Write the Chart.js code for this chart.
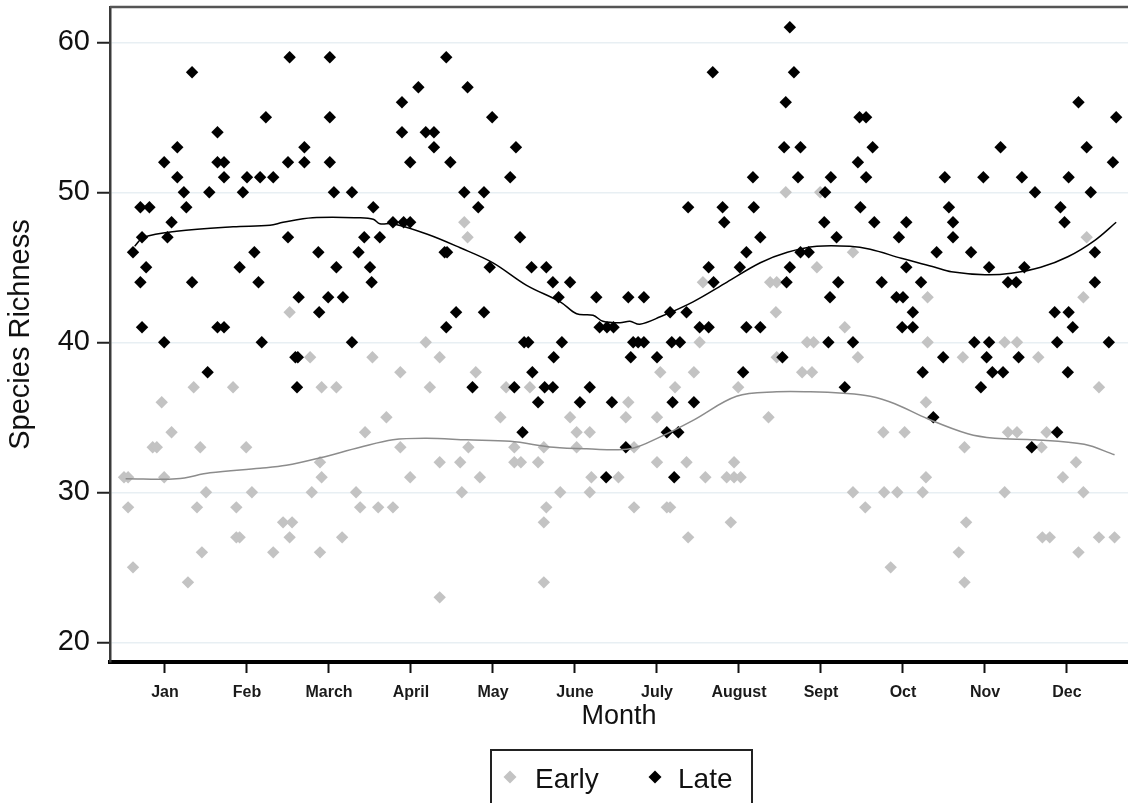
<!DOCTYPE html>
<html>
<head>
<meta charset="utf-8">
<script src="https://cdn.jsdelivr.net/npm/chart.js@4.4.1/dist/chart.umd.min.js"></script>
<style>
  html, body { margin: 0; padding: 0; background: #fff; overflow: hidden; }
  canvas { display: block; }
</style>
</head>
<body>
<canvas id="chart" width="1128" height="803"></canvas>
<script>
// Month axis: Jan = 1 ... Dec = 12 (fractional values fall between month ticks)
const monthTicks = [1, 2, 3, 4, 5, 6, 7, 8, 9, 10, 11, 12];
const monthLabels = ['Jan', 'Feb', 'March', 'April', 'May', 'June', 'July', 'August', 'Sept', 'Oct', 'Nov', 'Dec'];
const richnessTicks = [20, 30, 40, 50, 60];

// Early samples
const earlyMonth = [
  0.50, 0.55, 0.55, 0.61, 0.85, 0.90, 0.96, 0.99, 1.08, 1.28, 1.35, 1.39, 1.43, 1.45, 1.50,
  1.83, 1.87, 1.87, 1.91, 1.99, 2.06, 2.32, 2.44, 2.52, 2.52, 2.55, 2.77, 2.79, 2.89, 2.89,
  2.91, 2.91, 3.09, 3.16, 3.33, 3.38, 3.44, 3.53, 3.60, 3.70, 3.78, 3.87, 3.87, 3.99, 4.18,
  4.23, 4.35, 4.35, 4.35, 4.60, 4.62, 4.65, 4.69, 4.70, 4.79, 4.84, 5.09, 5.16, 5.26, 5.26,
  5.34, 5.45, 5.55, 5.62, 5.62, 5.62, 5.65, 5.82, 5.94, 6.02, 6.02, 6.18, 6.18, 6.20, 6.53,
  6.62, 6.65, 6.72, 6.72, 7.00, 7.00, 7.04, 7.12, 7.16, 7.22, 7.36, 7.38, 7.45, 7.52, 7.56,
  7.59, 7.85, 7.90, 7.94, 7.94, 7.99, 8.02, 8.36, 8.38, 8.45, 8.46, 8.46, 8.57, 8.77, 8.83,
  8.89, 8.91, 8.95, 8.99, 9.29, 9.39, 9.39, 9.45, 9.54, 9.76, 9.77, 9.85, 9.93, 10.02, 10.24,
  10.28, 10.28, 10.30, 10.30, 10.68, 10.73, 10.75, 10.75, 10.77, 11.24, 11.24, 11.28, 11.39, 11.39, 11.65,
  11.69, 11.70, 11.75, 11.79, 11.95, 12.11, 12.14, 12.20, 12.20, 12.24, 12.39, 12.39, 12.58
];
const earlyRichness = [
  31, 31, 29, 25, 33, 33, 36, 31, 34, 24, 37, 29, 33, 26, 30,
  37, 29, 27, 27, 33, 30, 26, 28, 27, 42, 28, 39, 30, 32, 26,
  37, 31, 37, 27, 30, 29, 34, 39, 29, 35, 29, 38, 33, 31, 40,
  37, 39, 32, 23, 32, 30, 48, 47, 33, 38, 31, 35, 37, 33, 32,
  32, 37, 32, 33, 28, 24, 29, 30, 35, 34, 33, 34, 30, 31, 31,
  35, 36, 33, 29, 35, 32, 38, 29, 29, 37, 32, 27, 38, 40, 44,
  31, 31, 28, 32, 31, 37, 31, 35, 44, 42, 44, 39, 50, 38, 40,
  38, 40, 45, 50, 41, 46, 30, 39, 29, 34, 30, 25, 30, 34, 30,
  36, 31, 40, 43, 26, 39, 33, 24, 28, 40, 30, 34, 40, 34, 39,
  33, 27, 34, 27, 31, 32, 26, 43, 30, 47, 37, 27, 27
];

// Late samples
const lateMonth = [
  0.61, 0.70, 0.70, 0.72, 0.72, 0.77, 0.81, 0.99, 0.99, 1.03, 1.08, 1.15, 1.15, 1.23, 1.26,
  1.33, 1.33, 1.52, 1.54, 1.64, 1.64, 1.64, 1.72, 1.72, 1.72, 1.91, 1.95, 2.00, 2.09, 2.14,
  2.16, 2.18, 2.23, 2.32, 2.50, 2.50, 2.52, 2.59, 2.62, 2.61, 2.63, 2.70, 2.70, 2.87, 2.88,
  2.99, 3.01, 3.01, 3.01, 3.06, 3.09, 3.17, 3.28, 3.28, 3.36, 3.43, 3.50, 3.52, 3.54, 3.62,
  3.78, 3.89, 3.89, 3.91, 3.99, 3.99, 4.09, 4.18, 4.28, 4.28, 4.41, 4.44, 4.43, 4.43, 4.48,
  4.55, 4.65, 4.69, 4.75, 4.82, 4.89, 4.89, 4.96, 4.99, 5.21, 5.26, 5.28, 5.33, 5.36, 5.38,
  5.43, 5.47, 5.48, 5.55, 5.63, 5.65, 5.73, 5.73, 5.74, 5.80, 5.84, 5.94, 6.06, 6.18, 6.26,
  6.30, 6.38, 6.39, 6.45, 6.47, 6.62, 6.65, 6.68, 6.71, 6.77, 6.84, 6.84, 7.00, 7.12, 7.16,
  7.18, 7.19, 7.21, 7.26, 7.28, 7.36, 7.38, 7.45, 7.52, 7.63, 7.63, 7.68, 7.69, 7.80, 7.82,
  8.01, 8.05, 8.09, 8.09, 8.17, 8.18, 8.26, 8.26, 8.53, 8.55, 8.57, 8.58, 8.62, 8.62, 8.67,
  8.72, 8.75, 8.75, 8.85, 9.04, 9.05, 9.09, 9.11, 9.12, 9.19, 9.21, 9.29, 9.39, 9.45, 9.47,
  9.48, 9.55, 9.55, 9.63, 9.65, 9.74, 9.92, 9.95, 9.99, 10.00, 10.04, 10.04, 10.12, 10.12, 10.22,
  10.24, 10.37, 10.41, 10.49, 10.51, 10.56, 10.61, 10.61, 10.83, 10.87, 10.95, 10.98, 11.02, 11.05, 11.05,
  11.09, 11.19, 11.22, 11.28, 11.38, 11.41, 11.45, 11.48, 11.57, 11.61, 11.85, 11.88, 11.88, 11.92, 11.97,
  12.01, 12.02, 12.02, 12.07, 12.14, 12.24, 12.29, 12.34, 12.34, 12.51, 12.56, 12.60
];
const lateRichness = [
  46, 49, 44, 47, 41, 45, 49, 52, 40, 47, 48, 53, 51, 50, 49,
  58, 44, 38, 50, 54, 52, 41, 52, 51, 41, 45, 50, 51, 46, 44,
  51, 40, 55, 51, 52, 47, 59, 39, 39, 37, 43, 53, 52, 46, 42,
  43, 59, 55, 52, 50, 45, 43, 50, 40, 46, 47, 45, 44, 49, 47,
  48, 56, 54, 48, 52, 48, 57, 54, 54, 53, 46, 46, 59, 41, 52,
  42, 50, 57, 37, 49, 50, 42, 45, 55, 51, 37, 53, 47, 34, 40,
  40, 45, 38, 36, 37, 45, 44, 37, 39, 43, 40, 44, 36, 37, 43,
  41, 31, 41, 36, 41, 33, 43, 39, 40, 40, 40, 43, 39, 34, 42,
  40, 36, 31, 34, 40, 42, 49, 36, 41, 41, 45, 58, 44, 49, 48,
  45, 38, 46, 41, 51, 49, 41, 47, 39, 53, 56, 44, 61, 45, 58,
  51, 53, 46, 46, 48, 50, 40, 43, 51, 47, 44, 37, 40, 52, 55,
  49, 55, 51, 53, 48, 44, 43, 47, 41, 43, 48, 45, 42, 41, 44,
  38, 35, 46, 39, 51, 49, 48, 47, 46, 40, 37, 51, 39, 45, 40,
  38, 53, 38, 44, 44, 39, 51, 45, 33, 50, 42, 40, 34, 49, 48,
  38, 51, 42, 41, 56, 53, 50, 46, 44, 40, 52, 55
];

// Smoothed seasonal trends
const earlyTrendMonth = [0.52, 1.14, 1.55, 2.16, 2.48, 2.89, 3.38, 3.78, 4.19, 4.68, 5.21, 5.74, 6.14, 6.67,
  7.04, 7.44, 7.97, 8.46, 8.87, 9.27, 9.60, 9.90, 10.30, 10.79, 11.12, 11.61, 12.21, 12.58];
const earlyTrend = [30.9, 30.9, 31.3, 31.6, 31.8, 32.3, 33.0, 33.5, 33.6, 33.5, 33.4, 33.0, 32.9, 32.9,
  33.7, 34.8, 36.4, 36.7, 36.7, 36.6, 36.4, 35.9, 34.9, 33.9, 33.6, 33.5, 33.2, 32.5];
const lateTrendMonth = [0.63, 0.74, 1.14, 1.83, 2.28, 2.44, 2.80, 3.38, 3.54, 3.62, 3.78, 4.20, 4.60, 5.00,
  5.41, 5.82, 6.02, 6.22, 6.34, 6.55, 6.67, 6.79, 7.04, 7.44, 7.85, 8.26, 8.59, 8.95, 9.35, 9.60,
  9.98, 10.39, 10.59, 11.00, 11.32, 11.68, 12.01, 12.34, 12.60];
const lateTrend = [46.4, 47.0, 47.4, 47.7, 47.8, 48.0, 48.3, 48.3, 48.2, 47.9, 47.9, 47.2, 46.3, 45.3,
  43.8, 42.7, 41.9, 41.8, 41.4, 41.3, 41.4, 41.2, 41.7, 42.7, 44.0, 45.3, 46.0, 46.4, 46.4, 46.2,
  45.6, 45.0, 44.7, 44.5, 44.6, 45.0, 45.7, 46.8, 48.0];

const toPoints = (xs, ys) => xs.map((x, i) => ({ x: x, y: ys[i] }));

const FONT = "'Liberation Sans', Arial, Helvetica, sans-serif";
const EARLY_COLOR = '#c3c3c3';
const LATE_COLOR = '#000000';

// Thin frame line along the top of the plot region
const topFrame = {
  id: 'topFrame',
  afterDatasetsDraw(chart) {
    const { ctx, chartArea } = chart;
    ctx.save();
    ctx.strokeStyle = '#555';
    ctx.lineWidth = 2.5;
    ctx.beginPath();
    ctx.moveTo(chartArea.left, chartArea.top);
    ctx.lineTo(chartArea.right, chartArea.top);
    ctx.stroke();
    ctx.restore();
  }
};

// Boxed legend under the axis title
const boxedLegend = {
  id: 'boxedLegend',
  afterDraw(chart) {
    const ctx = chart.ctx;
    const items = chart.data.datasets.filter(d => d.inLegend);
    const slots = [{ mark: 510, text: 535 }, { mark: 655, text: 678 }];
    ctx.save();
    ctx.lineWidth = 2;
    ctx.strokeStyle = '#222';
    ctx.strokeRect(491, 750, 261, 80);
    ctx.font = '28px ' + FONT;
    ctx.textBaseline = 'alphabetic';
    ctx.textAlign = 'left';
    items.forEach((d, i) => {
      const s = slots[i];
      const r = 6.5, cy = 777;
      ctx.fillStyle = d.backgroundColor;
      ctx.beginPath();
      ctx.moveTo(s.mark - r, cy);
      ctx.lineTo(s.mark, cy - r);
      ctx.lineTo(s.mark + r, cy);
      ctx.lineTo(s.mark, cy + r);
      ctx.closePath();
      ctx.fill();
      ctx.fillStyle = '#111';
      ctx.fillText(d.label, s.text, 788);
    });
    ctx.restore();
  }
};

new Chart(document.getElementById('chart'), {
  type: 'scatter',
  data: {
    datasets: [
      {
        type: 'line',
        label: 'Late trend',
        data: toPoints(lateTrendMonth, lateTrend),
        borderColor: '#000',
        borderWidth: 1.5,
        pointRadius: 0,
        tension: 0.35,
        fill: false,
        order: 0
      },
      {
        type: 'line',
        label: 'Early trend',
        data: toPoints(earlyTrendMonth, earlyTrend),
        borderColor: '#8c8c8c',
        borderWidth: 1.5,
        pointRadius: 0,
        tension: 0.35,
        fill: false,
        order: 0
      },
      {
        label: 'Early',
        inLegend: true,
        data: toPoints(earlyMonth, earlyRichness),
        backgroundColor: EARLY_COLOR,
        borderWidth: 0,
        pointStyle: 'rectRot',
        pointRadius: 6.2,
        pointHoverRadius: 6.2,
        order: 2
      },
      {
        label: 'Late',
        inLegend: true,
        data: toPoints(lateMonth, lateRichness),
        backgroundColor: LATE_COLOR,
        borderWidth: 0,
        pointStyle: 'rectRot',
        pointRadius: 6.2,
        pointHoverRadius: 6.2,
        order: 1
      }
    ]
  },
  options: {
    responsive: false,
    animation: false,
    devicePixelRatio: 1,
    layout: { autoPadding: false, padding: { top: 7, right: 0, bottom: 66, left: 0 } },
    plugins: {
      legend: { display: false },
      tooltip: { enabled: false }
    },
    scales: {
      x: {
        type: 'linear',
        min: 0.3293,
        max: 12.744,
        afterBuildTicks: s => { s.ticks = monthTicks.map(v => ({ value: v })); },
        afterFit: s => { s.height = 75; s.paddingLeft = 0; s.paddingRight = 0; },
        ticks: {
          autoSkip: false,
          maxRotation: 0,
          padding: 10,
          color: '#1a1a1a',
          font: { family: FONT, size: 16, weight: 'bold' },
          callback: v => monthLabels[monthTicks.indexOf(v)]
        },
        grid: {
          drawOnChartArea: false,
          drawTicks: true,
          tickLength: 11,
          tickWidth: 2,
          tickColor: '#111'
        },
        border: { display: true, color: '#000', width: 4 },
        title: {
          display: true,
          text: 'Month',
          color: '#111',
          font: { family: FONT, size: 27 },
          padding: { top: 0, bottom: 4 }
        }
      },
      y: {
        type: 'linear',
        min: 18.69,
        max: 62.35,
        afterBuildTicks: s => { s.ticks = richnessTicks.map(v => ({ value: v })); },
        afterFit: s => { s.width = 110; s.paddingTop = 0; s.paddingBottom = 0; },
        ticks: {
          padding: 7,
          color: '#111',
          font: { family: FONT, size: 29 }
        },
        grid: {
          color: '#e8eff3',
          lineWidth: 1.5,
          drawTicks: true,
          tickLength: 13,
          tickWidth: 2,
          tickColor: '#222'
        },
        border: { display: true, color: '#3a3a3a', width: 2.5 },
        title: {
          display: true,
          text: 'Species Richness',
          color: '#111',
          font: { family: FONT, size: 29 },
          padding: { top: 4, bottom: 4 }
        }
      }
    }
  },
  plugins: [topFrame, boxedLegend]
});
</script>
</body>
</html>
